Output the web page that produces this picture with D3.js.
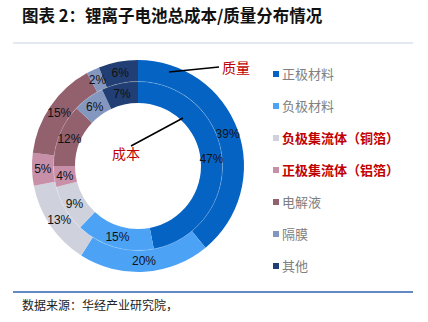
<!DOCTYPE html>
<html>
<head>
  <meta charset="utf-8">
  <title>锂离子电池总成本/质量分布情况</title>
  <script src="https://d3js.org/d3.v7.min.js"></script>
  <style>
    body { margin: 0; background: #fff; }
    svg { display: block; }
    .pct { font-family: "Liberation Sans", Arial, sans-serif; font-size: 12px; fill: #111; }
    .cjk { font-family: "Noto Sans CJK SC", sans-serif; }
  </style>
</head>
<body>
  <div id="chart"></div>
  <script>
    const width = 428, height = 322;
    const categories = ["正极材料", "负极材料", "负极集流体（铜箔）", "正极集流体（铝箔）", "电解液", "隔膜", "其他"];
    const massValues = [39, 20, 13, 5, 15, 2, 6];   // 外环 质量
    const costValues = [47, 15, 9, 4, 12, 6, 7];    // 内环 成本
    const colors = ["#0563c3", "#4ca3f6", "#cfd2dc", "#c78fa8", "#93606e", "#8497bf", "#213f74"];
    const redLegend = [2, 3];

    const svg = d3.select("#chart").append("svg").attr("width", width).attr("height", height);

    // title
    svg.append("text").attr("class", "cjk").attr("x", 22).attr("y", 22)
      .attr("font-size", 16.5).attr("font-weight", "bold").attr("fill", "#111")
      .text("图表 2：锂离子电池总成本/质量分布情况");
    svg.append("line").attr("x1", 13).attr("x2", 413).attr("y1", 43).attr("y2", 43)
      .attr("stroke", "#c9d3e3").attr("stroke-width", 1.2);

    const cx = 138, cy = 166;
    const g = svg.append("g").attr("transform", `translate(${cx},${cy})`);
    const pie = d3.pie().sort(null).value(d => d);

    function ring(values, r0, r1) {
      const arc = d3.arc().innerRadius(r0).outerRadius(r1);
      const arcs = pie(values);
      const rg = g.append("g");
      rg.selectAll("path").data(arcs).enter().append("path")
        .attr("d", arc).attr("fill", (d, i) => colors[i]);
      rg.selectAll("text").data(arcs).enter().append("text")
        .attr("class", "pct")
        .attr("transform", d => `translate(${arc.centroid(d)})`)
        .attr("text-anchor", "middle").attr("dy", "0.36em")
        .text(d => d.data + "%");
    }
    ring(massValues, 84.5, 106);
    ring(costValues, 63, 84.5);
    g.append("circle").attr("r", 84.5).attr("fill", "none")
      .attr("stroke", "#fff").attr("stroke-opacity", 0.3).attr("stroke-width", 0.7);

    // annotations
    svg.append("line").attr("x1", 169).attr("y1", 72).attr("x2", 219).attr("y2", 67)
      .attr("stroke", "#000").attr("stroke-width", 1.5);
    svg.append("text").attr("class", "cjk").attr("x", 222).attr("y", 73)
      .attr("font-size", 14).attr("fill", "#c00000").text("质量");
    svg.append("line").attr("x1", 183).attr("y1", 118).attr("x2", 131).attr("y2", 146)
      .attr("stroke", "#000").attr("stroke-width", 1.5);
    svg.append("text").attr("class", "cjk").attr("x", 112).attr("y", 159)
      .attr("font-size", 14).attr("fill", "#c00000").text("成本");

    // legend
    const legend = svg.append("g").attr("transform", "translate(273,74)");
    const rows = legend.selectAll("g").data(categories).enter().append("g")
      .attr("transform", (d, i) => `translate(0,${i * 32})`);
    rows.append("rect").attr("x", 0).attr("y", -3).attr("width", 6).attr("height", 6)
      .attr("fill", (d, i) => colors[i]);
    rows.append("text").attr("class", "cjk").attr("x", 9).attr("dy", "0.36em")
      .attr("font-size", 13)
      .attr("fill", (d, i) => redLegend.includes(i) ? "#c00000" : "#808080")
      .attr("font-weight", (d, i) => redLegend.includes(i) ? "bold" : "normal")
      .text(d => d);

    // footer
    svg.append("line").attr("x1", 13).attr("x2", 413).attr("y1", 292).attr("y2", 292)
      .attr("stroke", "#2f63b5").attr("stroke-width", 1.5);
    svg.append("text").attr("class", "cjk").attr("x", 22).attr("y", 310)
      .attr("font-size", 12).attr("fill", "#222").text("数据来源：华经产业研究院，");
  </script>
</body>
</html>
